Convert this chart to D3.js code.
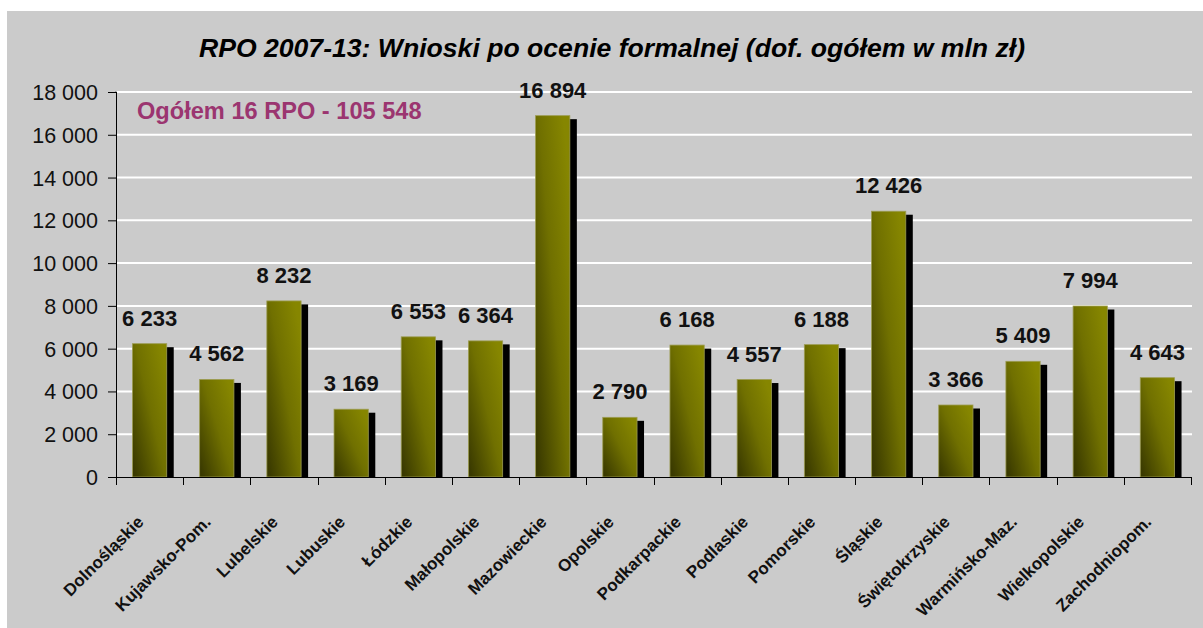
<!DOCTYPE html>
<html>
<head>
<meta charset="utf-8">
<script src="https://cdn.jsdelivr.net/npm/d3@7"></script>
<style>
  html, body { margin: 0; padding: 0; background: #ffffff; }
  svg { display: block; }
  text { font-family: "Liberation Sans", Arial, sans-serif; }
</style>
</head>
<body>
<svg id="chart" width="1203" height="628"></svg>
<script>
const categories = ["Dolnośląskie", "Kujawsko-Pom.", "Lubelskie", "Lubuskie", "Łódzkie", "Małopolskie",
  "Mazowieckie", "Opolskie", "Podkarpackie", "Podlaskie", "Pomorskie", "Śląskie",
  "Świętokrzyskie", "Warmińsko-Maz.", "Wielkopolskie", "Zachodniopom."];
const values = [6233, 4562, 8232, 3169, 6553, 6364, 16894, 2790, 6168, 4557, 6188, 12426, 3366, 5409, 7994, 4643];
const yTicks = [0, 2000, 4000, 6000, 8000, 10000, 12000, 14000, 16000, 18000];
const titleText = "RPO 2007-13: Wnioski po ocenie formalnej (dof. ogółem w mln zł)";
const noteText = "Ogółem 16 RPO - 105 548";

(function () {
const svg = d3.select("#chart");
const W = 1203, H = 628;
const pL = 116, pR = 1191, pT = 92, pB = 477;

// panel background
svg.append("rect").attr("x", 7).attr("y", 11).attr("width", W - 7).attr("height", H - 11).attr("fill", "#cbcbcb");

const defs = svg.append("defs");
const grad = defs.append("linearGradient").attr("id", "olive")
  .attr("x1", 0).attr("y1", 0.9).attr("x2", 0.9).attr("y2", 0.1);
grad.append("stop").attr("offset", "0%").attr("stop-color", "#3a3a00");
grad.append("stop").attr("offset", "55%").attr("stop-color", "#707000");
grad.append("stop").attr("offset", "100%").attr("stop-color", "#868600");

const x = d3.scaleBand().domain(categories).range([pL, pR]).paddingInner(0).paddingOuter(0);
const y = d3.scaleLinear().domain([0, 18000]).range([pB, pT]);
const fmt = v => d3.format(",")(v).replace(/,/g, " ");

// gridlines
svg.append("g").selectAll("line").data(yTicks.filter(d => d > 0)).join("line")
  .attr("x1", pL).attr("x2", pR + 1)
  .attr("y1", d => y(d)).attr("y2", d => y(d))
  .attr("stroke", "#ffffff").attr("stroke-width", 2);

// y axis
const yAxis = d3.axisLeft(y).tickValues(yTicks).tickSize(8).tickPadding(10).tickFormat(fmt);
const gy = svg.append("g").attr("transform", `translate(${pL},0)`).call(yAxis);
gy.select(".domain").attr("stroke", "#000").attr("d", `M-0.5,${pT}H0.5V${pB}`);
gy.selectAll(".tick line").attr("stroke", "#000");
gy.selectAll(".tick text").attr("font-size", 21.5).attr("fill", "#111")
  .attr("font-family", "'Liberation Sans', Arial, sans-serif").attr("dy", "0.35em");

// bars: shadow then bar
const barW = x.bandwidth() * 0.51;
const bars = svg.append("g");
bars.selectAll("rect.shadow").data(values).join("rect").attr("class", "shadow")
  .attr("x", (d, i) => x(categories[i]) + (x.bandwidth() - barW) / 2 + 7)
  .attr("y", d => y(d) + 3.5)
  .attr("width", barW)
  .attr("height", d => pB - y(d) - 3.5)
  .attr("fill", "#000");
bars.selectAll("rect.bar").data(values).join("rect").attr("class", "bar")
  .attr("x", (d, i) => x(categories[i]) + (x.bandwidth() - barW) / 2)
  .attr("y", d => y(d))
  .attr("width", barW)
  .attr("height", d => pB - y(d))
  .attr("fill", "url(#olive)")
  .attr("stroke", "#9c9c52").attr("stroke-width", 0.8);

// x axis
svg.append("line").attr("x1", pL).attr("x2", pR).attr("y1", pB + 0.5).attr("y2", pB + 0.5)
  .attr("stroke", "#000").attr("stroke-width", 1);
const bounds = categories.map(c => x(c)).concat([pR]);
svg.append("g").selectAll("line").data(bounds).join("line")
  .attr("x1", d => Math.round(d) + 0.5).attr("x2", d => Math.round(d) + 0.5)
  .attr("y1", pB).attr("y2", pB + 8)
  .attr("stroke", "#000");

// x labels
svg.append("g").selectAll("text").data(categories).join("text")
  .attr("transform", d => `translate(${x(d) + x.bandwidth() / 2 - 5},${pB + 46}) rotate(-45)`)
  .attr("text-anchor", "end")
  .attr("font-size", 17).attr("font-weight", "bold").attr("fill", "#111")
  .text(d => d);

// value labels
svg.append("g").selectAll("text").data(values).join("text")
  .attr("x", (d, i) => x(categories[i]) + x.bandwidth() / 2)
  .attr("y", d => y(d) - 18)
  .attr("text-anchor", "middle")
  .attr("font-size", 22).attr("font-weight", "bold").attr("fill", "#111")
  .text(d => fmt(d));

// title
svg.append("text").attr("x", 612).attr("y", 57).attr("text-anchor", "middle")
  .attr("font-size", 26.6).attr("font-weight", "bold").attr("font-style", "italic").attr("fill", "#000")
  .text(titleText);

// note
svg.append("text").attr("x", 137).attr("y", 119)
  .attr("font-size", 23.6).attr("font-weight", "bold").attr("fill", "#9b3570")
  .text(noteText);
})();
</script>
</body>
</html>
